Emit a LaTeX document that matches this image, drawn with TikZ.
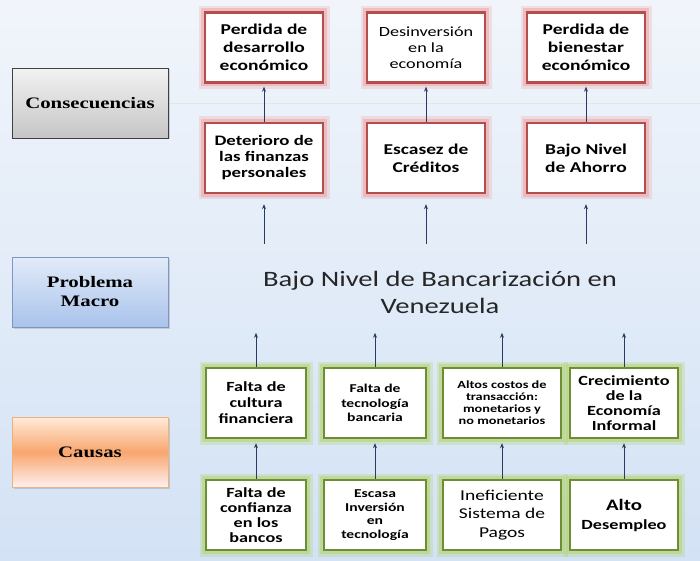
\documentclass[tikz,border=0pt]{standalone}
\usepackage{fontspec}
\setmainfont{Carlito}[FakeStretch=1.3]
\newfontfamily\lblfont{Liberation Serif}[FakeStretch=1.3]
\usepackage{tikz}
\usetikzlibrary{arrows.meta,shadows}

\definecolor{bgtop}{HTML}{F1F5FB}
\definecolor{bgbot}{HTML}{D3E2F5}
\definecolor{arrowblue}{HTML}{2A3A66}
\definecolor{redline}{HTML}{B74C4A}
\definecolor{redglow}{HTML}{EC9A98}
\definecolor{greenline}{HTML}{6E8E34}
\definecolor{greenglow}{HTML}{B3D36E}
\definecolor{macrotop}{HTML}{E2EBF8}
\definecolor{macrobot}{HTML}{A9C3EC}
\definecolor{macroline}{HTML}{7F97C0}
\definecolor{causmid}{HTML}{F8A66E}

\tikzset{
  arr/.style={-{Stealth[length=5pt,width=4pt]}, draw=arrowblue, line width=0.9pt},
  redbox/.style={draw=redline, line width=2.4pt, fill=white, minimum width=118pt,
    minimum height=70pt, align=center, inner sep=1pt,
    preaction={draw=redglow, line width=13pt, opacity=0.25},
    preaction={draw=redglow, line width=8pt, opacity=0.45}},
  greenbox/.style={draw=greenline, line width=2.4pt, fill=white, minimum height=70pt,
    align=center, inner sep=1pt,
    preaction={draw=greenglow, line width=13pt, opacity=0.3},
    preaction={draw=greenglow, line width=8pt, opacity=0.5}},
  lblbox/.style={minimum width=156pt, minimum height=70pt, align=center, line width=0.8pt,
    font=\lblfont\bfseries\fontsize{16}{19}\selectfont,
    drop shadow={shadow xshift=1.5pt, shadow yshift=-1.5pt, opacity=0.3}},
  fa/.style={font=\bfseries\fontsize{15}{18}\selectfont},
  fb/.style={font=\bfseries\fontsize{14}{16}\selectfont},
  fc/.style={font=\bfseries\fontsize{12}{14.5}\selectfont},
}

\begin{document}
\begin{tikzpicture}[x=1pt,y=-1pt]
\useasboundingbox (0,0) rectangle (700,561);
% background
\fill[top color=bgtop, bottom color=bgbot] (0,0) rectangle (700,561);
\draw[gray!20, line width=0.6pt] (168,103) -- (700,103);
% left labels
\node[lblbox, draw=black!75, top color=gray!10, bottom color=gray!45] (cons) at (90,103) {Consecuencias};
\node[lblbox, draw=macroline, top color=macrotop, bottom color=macrobot] (prob) at (90,292) {Problema\\Macro};
\node[lblbox, draw=orange!50!brown!60, top color=orange!15, bottom color=red!6, middle color=causmid] (caus) at (90,452) {Causas};
% consecuencias
\node[redbox, fa] (r11) at (264,47.5) {Perdida de\\desarrollo\\económico};
\node[redbox, font=\fontsize{14}{16}\selectfont] (r12) at (426,47.5) {Desinversión\\en la\\economía};
\node[redbox, fa] (r13) at (586,47.5) {Perdida de\\bienestar\\económico};
\node[redbox, font=\bfseries\fontsize{14.5}{16}\selectfont] (r21) at (264,158) {Deterioro de\\las finanzas\\personales};
\node[redbox, fa] (r22) at (426,158) {Escasez de\\Créditos};
\node[redbox, fa] (r23) at (586,158) {Bajo Nivel\\de Ahorro};
% problema
\node[align=center, font=\fontsize{22}{27}\selectfont, text=black!85] (bajo) at (440,292) {Bajo Nivel de Bancarización en\\Venezuela};
% causas
\node[greenbox, fb, minimum width=100pt] (g11) at (256,403) {Falta de\\cultura\\financiera};
\node[greenbox, fc, minimum width=102pt] (g12) at (375,403) {Falta de\\tecnología\\bancaria};
\node[greenbox, font=\bfseries\fontsize{11}{12}\selectfont, minimum width=118pt] (g13) at (502,403) {Altos costos de\\transacción:\\monetarios y\\no monetarios};
\node[greenbox, font=\bfseries\fontsize{14}{15}\selectfont, minimum width=108pt] (g14) at (624,403) {Crecimiento\\de la\\Economía\\Informal};
\node[greenbox, font=\bfseries\fontsize{14}{15}\selectfont, minimum width=100pt] (g21) at (256,515) {Falta de\\confianza\\en los\\bancos};
\node[greenbox, font=\bfseries\fontsize{12}{13.5}\selectfont, minimum width=102pt] (g22) at (375,515) {Escasa\\Inversión\\en\\tecnología};
\node[greenbox, font=\fontsize{15}{18.5}\selectfont, minimum width=118pt] (g23) at (502,515) {Ineficiente\\Sistema de\\Pagos};
\node[greenbox, font=\bfseries\fontsize{14}{19}\selectfont, minimum width=108pt] (g24) at (624,515) {{\fontsize{16}{19}\selectfont Alto}\\Desempleo};
% arrows
\foreach \i in {1,2,3} {
  \draw[arr, shorten >=3pt] (r2\i.north) -- (r1\i.south);
  \draw[arr] ([yshift=-50pt]r2\i.south) -- ([yshift=-10pt]r2\i.south);
}
\foreach \i in {1,2,3,4} {
  \draw[arr, shorten >=4pt] (g2\i.north) -- (g1\i.south);
  \draw[arr] (g1\i.north) -- ++(0,-34);
}
\end{tikzpicture}
\end{document}
